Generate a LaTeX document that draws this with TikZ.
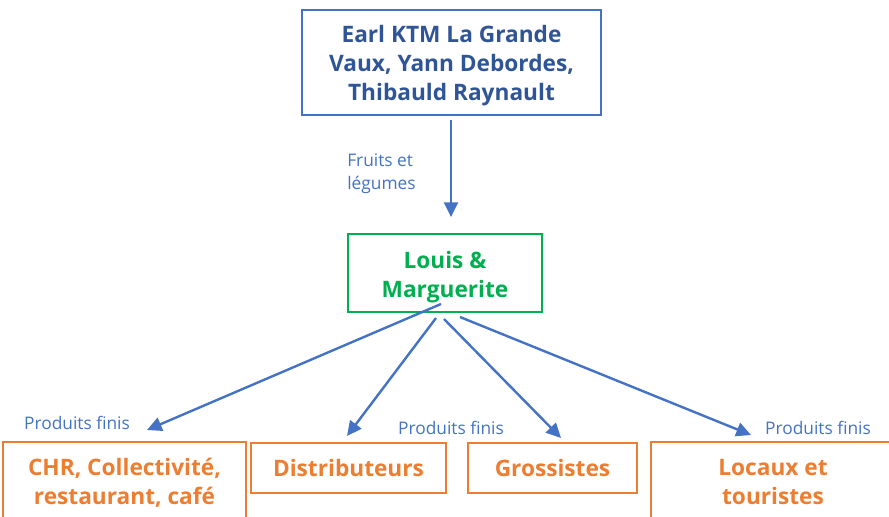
\documentclass[tikz,border=0pt]{standalone}
\usepackage{fontspec}
\setmainfont{Open Sans}
\usetikzlibrary{arrows.meta}
\definecolor{obl}{HTML}{4472C4}
\definecolor{dbl}{HTML}{2F5597}
\definecolor{grn}{HTML}{00B050}
\definecolor{org}{HTML}{ED7D31}
\tikzset{
  box/.style={draw, line width=1.5pt, inner sep=0pt, align=center,
    font=\fontsize{17}{21.75}\selectfont\bfseries},
  txt/.style={inner sep=0pt, align=center, font=\fontsize{17}{21.75}\selectfont\bfseries},
  lab/.style={text=obl, inner sep=0pt, font=\fontsize{13}{17}\selectfont},
  arr/.style={draw=obl, line width=1.8pt, -{Triangle[length=11pt,width=10.5pt]}},
}
\begin{document}
\begin{tikzpicture}[x=0.75pt,y=-0.75pt]
\useasboundingbox (0,0) rectangle (889,517);
\node[box, draw=obl, minimum width=299*0.75pt, minimum height=105*0.75pt] (top) at (451.5,62.5) {};
\node[txt, text=dbl] (toptext) at (451.5,66) {Earl KTM La Grande\\Vaux, Yann Debordes,\\Thibauld Raynault};
\node[box, draw=grn, minimum width=194*0.75pt, minimum height=78*0.75pt] (lm) at (445,273) {};
\node[txt, text=grn] (lmtext) at (445,277) {Louis \&\\Marguerite};
\node[box, draw=org, text=org, minimum width=243*0.75pt, minimum height=81*0.75pt] (chr) at (124.5,482.5) {CHR, Collectivité,\\restaurant, café};
\node[box, draw=org, text=org, minimum width=195*0.75pt, minimum height=50*0.75pt] (dis) at (348.5,467.5) {Distributeurs};
\node[box, draw=org, text=org, minimum width=169*0.75pt, minimum height=50*0.75pt] (gro) at (552.5,467.5) {Grossistes};
\node[box, draw=org, text=org, minimum width=244*0.75pt, minimum height=81*0.75pt] (loc) at (773,482.5) {Locaux et\\touristes};
\node[lab, anchor=west, align=left] (fl) at (347,173.5) {Fruits et\\légumes};
\node[lab] (p1) at (77,423) {Produits finis};
\node[lab] (p2) at (451,428) {Produits finis};
\node[lab] (p3) at (818,428) {Produits finis};
\coordinate (t0) at (451,120);
\coordinate (t1) at (451,217);
\coordinate (s1) at (441,304);
\coordinate (e1) at (147,430);
\coordinate (s2) at (436,318);
\coordinate (e2) at (347,436);
\coordinate (s3) at (444,319);
\coordinate (e3) at (561,438);
\coordinate (s4) at (460,317);
\coordinate (e4) at (751,435);
\draw[arr] (t0) -- (t1);
\draw[arr] (s1) -- (e1);
\draw[arr] (s2) -- (e2);
\draw[arr] (s3) -- (e3);
\draw[arr] (s4) -- (e4);
\end{tikzpicture}
\end{document}
